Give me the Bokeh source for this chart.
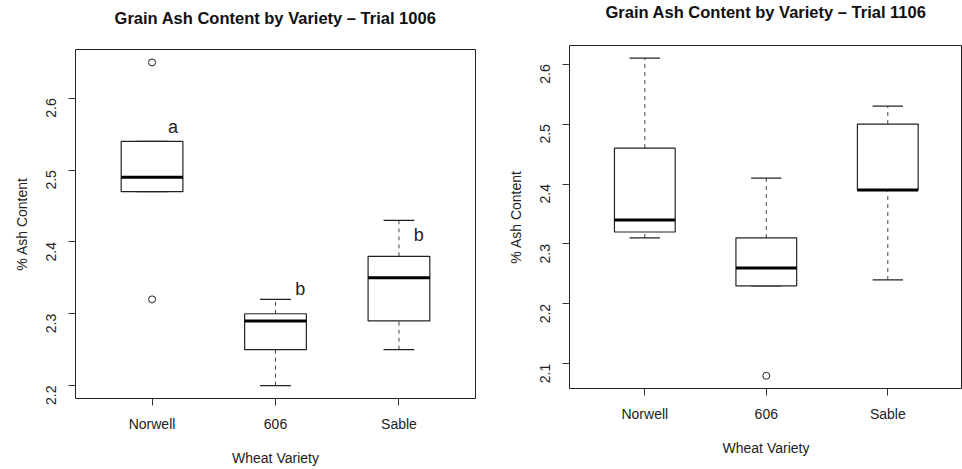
import math
from bokeh.plotting import figure
from bokeh.layouts import row, column
from bokeh.models import Range1d, FixedTicker, ColumnDataSource, Spacer, Title
from bokeh.core.properties import value
from bokeh.embed import file_html
from bokeh.resources import INLINE

FONT = "Liberation Sans"

categories = ["Norwell", "606", "Sable"]
positions = [1, 2, 3]

# Trial 1006
t1_low = [2.47, 2.20, 2.25]
t1_q1 = [2.47, 2.25, 2.29]
t1_med = [2.49, 2.29, 2.35]
t1_q3 = [2.54, 2.30, 2.38]
t1_high = [2.54, 2.32, 2.43]
t1_out_x = [1, 1]
t1_out_y = [2.65, 2.32]
t1_letters = ["a", "b", "b"]
t1_letter_x = [1.17, 2.20, 3.16]
t1_letter_y = [2.56, 2.335, 2.41]
t1_yticks = [2.2, 2.3, 2.4, 2.5, 2.6]

# Trial 1106
t2_low = [2.31, 2.23, 2.24]
t2_q1 = [2.32, 2.23, 2.39]
t2_med = [2.34, 2.26, 2.39]
t2_q3 = [2.46, 2.31, 2.50]
t2_high = [2.61, 2.41, 2.53]
t2_out_x = [2]
t2_out_y = [2.08]
t2_yticks = [2.1, 2.2, 2.3, 2.4, 2.5, 2.6]


def make_panel(title, low, q1, med, q3, high, ox, oy, yticks, yr, xr,
               width, height, borders, gap_standoff, letters=None):
    bl, br, bt, bb = borders
    p = figure(width=width, height=height, output_backend="svg",
               toolbar_location=None, title=None,
               x_range=Range1d(*xr), y_range=Range1d(*yr),
               min_border_left=bl, min_border_right=br,
               min_border_top=bt, min_border_bottom=bb)
    p.background_fill_color = "white"
    p.border_fill_color = "white"
    p.outline_line_color = "#222222"
    p.outline_line_width = 1
    p.xgrid.visible = False
    p.ygrid.visible = False

    # blank spacer row between the frame and the title
    p.add_layout(Title(text=" ", text_font=FONT, text_font_size="16.5px",
                       standoff=gap_standoff), "above")
    p.add_layout(Title(text=title, align="center", vertical_align="bottom",
                       standoff=0, text_font=FONT, text_font_size="16.5px",
                       text_font_style="bold", text_color="#111111"), "above")

    for ax in (p.xaxis[0], p.yaxis[0]):
        ax.axis_line_color = None
        ax.major_tick_line_color = "#333333"
        ax.major_tick_out = 7
        ax.major_tick_in = 0
        ax.minor_tick_line_color = None
        ax.major_label_text_font = FONT
        ax.major_label_text_font_size = "14px"
        ax.major_label_text_color = "#222222"
        ax.axis_label_text_font = FONT
        ax.axis_label_text_font_size = "14px"
        ax.axis_label_text_font_style = "normal"
        ax.axis_label_text_color = "#222222"

    p.xaxis.ticker = FixedTicker(ticks=positions)
    p.xaxis.major_label_overrides = {pos: c for pos, c in zip(positions, categories)}
    p.xaxis.axis_label = "Wheat Variety"
    p.xaxis.major_label_standoff = 10
    p.xaxis.axis_label_standoff = 15

    p.yaxis.ticker = FixedTicker(ticks=yticks)
    p.yaxis.major_label_orientation = math.pi / 2
    p.yaxis.major_label_standoff = 17
    p.yaxis.axis_label = "% Ash Content"
    p.yaxis.axis_label_standoff = 9

    src = ColumnDataSource(dict(
        x=positions, low=low, q1=q1, med=med, q3=q3, high=high,
        xl=[x - 0.25 for x in positions], xr=[x + 0.25 for x in positions],
        sl=[x - 0.125 for x in positions], sr=[x + 0.125 for x in positions],
    ))
    # whiskers
    p.segment(x0="x", y0="q3", x1="x", y1="high", source=src,
              line_color="#444444", line_width=1, line_dash="4 4")
    p.segment(x0="x", y0="low", x1="x", y1="q1", source=src,
              line_color="#444444", line_width=1, line_dash="4 4")
    # staples
    p.segment(x0="sl", y0="high", x1="sr", y1="high", source=src,
              line_color="#222222", line_width=1.2)
    p.segment(x0="sl", y0="low", x1="sr", y1="low", source=src,
              line_color="#222222", line_width=1.2)
    # boxes
    p.vbar(x="x", width=0.5, bottom="q1", top="q3", source=src,
           fill_color="white", line_color="#222222", line_width=1.2)
    # medians
    p.segment(x0="xl", y0="med", x1="xr", y1="med", source=src,
              line_color="#000000", line_width=3)
    # outliers
    p.scatter(x=ox, y=oy, marker="circle", size=7, fill_color=None,
              line_color="#222222", line_width=1)

    if letters is not None:
        lt, lx, ly = letters
        p.text(x=lx, y=ly, text=lt, text_font=value(FONT),
               text_font_size="18px", text_color="#222222",
               text_align="center", text_baseline="middle")
    return p


left = make_panel("Grain Ash Content by Variety \u2013 Trial 1006",
                  t1_low, t1_q1, t1_med, t1_q3, t1_high,
                  t1_out_x, t1_out_y, t1_yticks,
                  (2.182, 2.668), (0.38, 3.62), 480, 467, (75, 5, 48, 70), 3,
                  letters=(t1_letters, t1_letter_x, t1_letter_y))
right = make_panel("Grain Ash Content by Variety \u2013 Trial 1106",
                   t2_low, t2_q1, t2_med, t2_q3, t2_high,
                   t2_out_x, t2_out_y, t2_yticks,
                   (2.0588, 2.6312), (0.38, 3.615), 482, 469, (89, 0, 45, 81), 5)

layout = row(column(Spacer(width=480, height=1), left), right)
open("out.html", "w").write(file_html(layout, INLINE))
